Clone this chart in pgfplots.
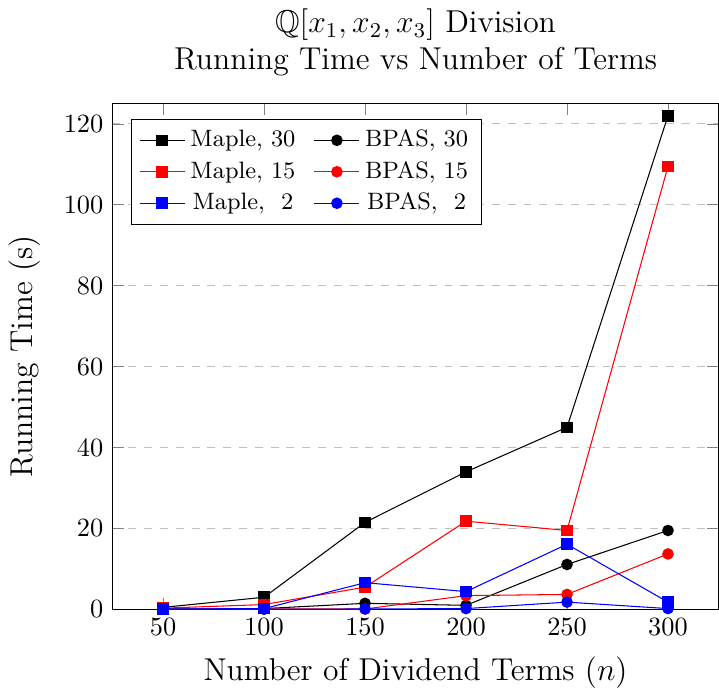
\documentclass[border=0pt]{standalone}
\usepackage{pgfplots}
\usepackage{amssymb}
\pgfplotsset{compat=1.18}
\begin{document}
\begin{tikzpicture}
\begin{axis}[
  scale only axis,
  width=230pt, height=192pt,
  xmin=25, xmax=325, ymin=0, ymax=125,
  xtick={50,100,150,200,250,300},
  ytick={0,20,40,60,80,100,120},
  ymajorgrids, grid style={dashed, gray!50},
  title style={align=center, font=\large, yshift=1pt},
  title={$\mathbb{Q}[x_1,x_2,x_3]$ Division\\Running Time vs Number of Terms},
  xlabel={Number of Dividend Terms ($n$)},
  ylabel={Running Time (s)},
  ylabel shift=2pt,
  xlabel shift=1pt,
  label style={font=\large},
  legend columns=2,
  legend pos=north west,
  legend style={font=\small, /tikz/every even column/.append style={column sep=5pt}},
]
\addplot[black, mark=square*] coordinates {(50,0.5) (100,3.0) (150,21.5) (200,34) (250,45) (300,122)};
\addlegendentry{Maple, 30}
\addplot[black, mark=*] coordinates {(50,0.1) (100,0.2) (150,1.5) (200,1.0) (250,11.1) (300,19.5)};
\addlegendentry{BPAS, 30}
\addplot[red, mark=square*] coordinates {(50,0.3) (100,1.2) (150,5.5) (200,21.8) (250,19.5) (300,109.5)};
\addlegendentry{Maple, 15}
\addplot[red, mark=*] coordinates {(50,0.05) (100,0.1) (150,0.1) (200,3.4) (250,3.7) (300,13.7)};
\addlegendentry{BPAS, 15}
\addplot[blue, mark=square*] coordinates {(50,0.1) (100,0.2) (150,6.6) (200,4.4) (250,16.1) (300,1.8)};
\addlegendentry{Maple, \ 2}
\addplot[blue, mark=*] coordinates {(50,0.02) (100,0.05) (150,0.1) (200,0.2) (250,1.8) (300,0.2)};
\addlegendentry{BPAS, \ 2}
\end{axis}
\end{tikzpicture}
\end{document}
